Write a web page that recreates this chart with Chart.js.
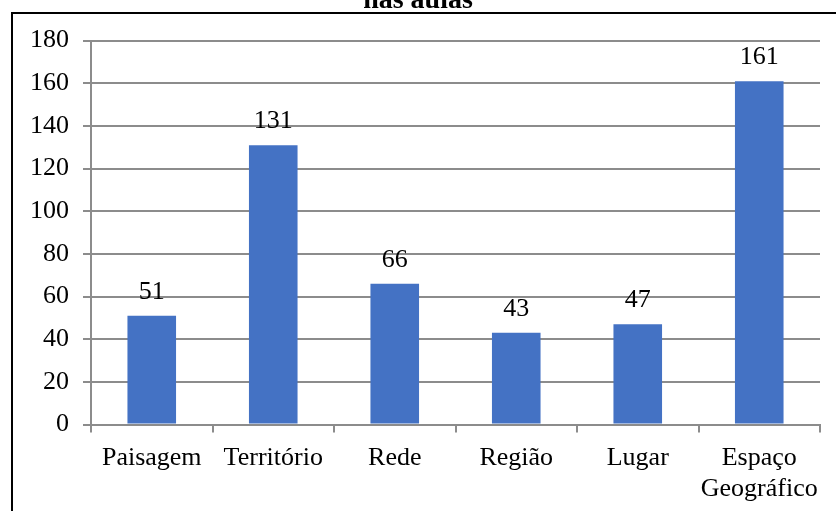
<!DOCTYPE html>
<html>
<head>
<meta charset="utf-8">
<script src="https://cdn.jsdelivr.net/npm/chart.js@4"></script>
<style>
  html, body { margin: 0; padding: 0; background: #fff; overflow: hidden; }
  body { width: 836px; height: 511px; position: relative; }
  #frame {
    position: absolute; left: 11px; top: 12px;
    width: 900px; height: 600px;
    border: 2px solid #000;
  }
  #chart { position: absolute; left: 0; top: -16px; }
</style>
</head>
<body>
<div id="frame"></div>
<canvas id="chart" width="836" height="537"></canvas>
<script>
// Categories and counts
const CATEGORIAS = ['Paisagem', 'Território', 'Rede', 'Região', 'Lugar', ['Espaço', 'Geográfico']];
const VALORES = [51, 131, 66, 43, 47, 161];
const Y_TICKS = [0, 20, 40, 60, 80, 100, 120, 140, 160, 180];
const TITULO = 'nas aulas';

const BAR_COLOR = '#4472C4';
const GRID_COLOR = '#8c8c8c';
const FONT = { family: "'Liberation Serif', 'Times New Roman', serif", size: 26 };

Chart.defaults.font.family = FONT.family;
Chart.defaults.font.size = FONT.size;
Chart.defaults.color = '#000';

// Value printed above each bar
const valueLabels = {
  id: 'valueLabels',
  afterDatasetsDraw(chart) {
    const ctx = chart.ctx;
    const meta = chart.getDatasetMeta(0);
    ctx.save();
    ctx.font = `${FONT.size}px ${FONT.family}`;
    ctx.fillStyle = '#000';
    ctx.textAlign = 'center';
    ctx.textBaseline = 'alphabetic';
    meta.data.forEach((bar, i) => {
      ctx.fillText(String(chart.data.datasets[0].data[i]), bar.x, bar.y - 17);
    });
    ctx.restore();
  }
};

new Chart(document.getElementById('chart'), {
  type: 'bar',
  data: {
    labels: CATEGORIAS,
    datasets: [{
      data: VALORES,
      backgroundColor: BAR_COLOR,
      borderWidth: 0,
      barPercentage: 0.4,
      categoryPercentage: 1.0
    }]
  },
  options: {
    responsive: false,
    animation: false,
    layout: { padding: { left: 16, right: 16, top: 0, bottom: 6 } },
    plugins: {
      legend: { display: false },
      tooltip: { enabled: false },
      title: {
        display: true,
        text: TITULO,
        color: '#000',
        font: { family: FONT.family, size: 28, weight: 'bold' },
        padding: { top: 0, bottom: 23 }
      }
    },
    scales: {
      x: {
        grid: {
          offset: true,
          drawOnChartArea: false,
          drawTicks: true,
          tickLength: 8,
          color: GRID_COLOR,
          lineWidth: 2
        },
        border: { color: GRID_COLOR, width: 2 },
        ticks: { padding: 10, maxRotation: 0, autoSkip: false, color: '#000' }
      },
      y: {
        min: Y_TICKS[0],
        max: Y_TICKS[Y_TICKS.length - 1],
        afterBuildTicks: (axis) => { axis.ticks = Y_TICKS.map(v => ({ value: v })); },
        grid: { color: GRID_COLOR, lineWidth: 2, tickLength: 8 },
        border: { color: GRID_COLOR, width: 2 },
        ticks: { padding: 14, color: '#000' }
      }
    }
  },
  plugins: [valueLabels]
});
</script>
</body>
</html>
